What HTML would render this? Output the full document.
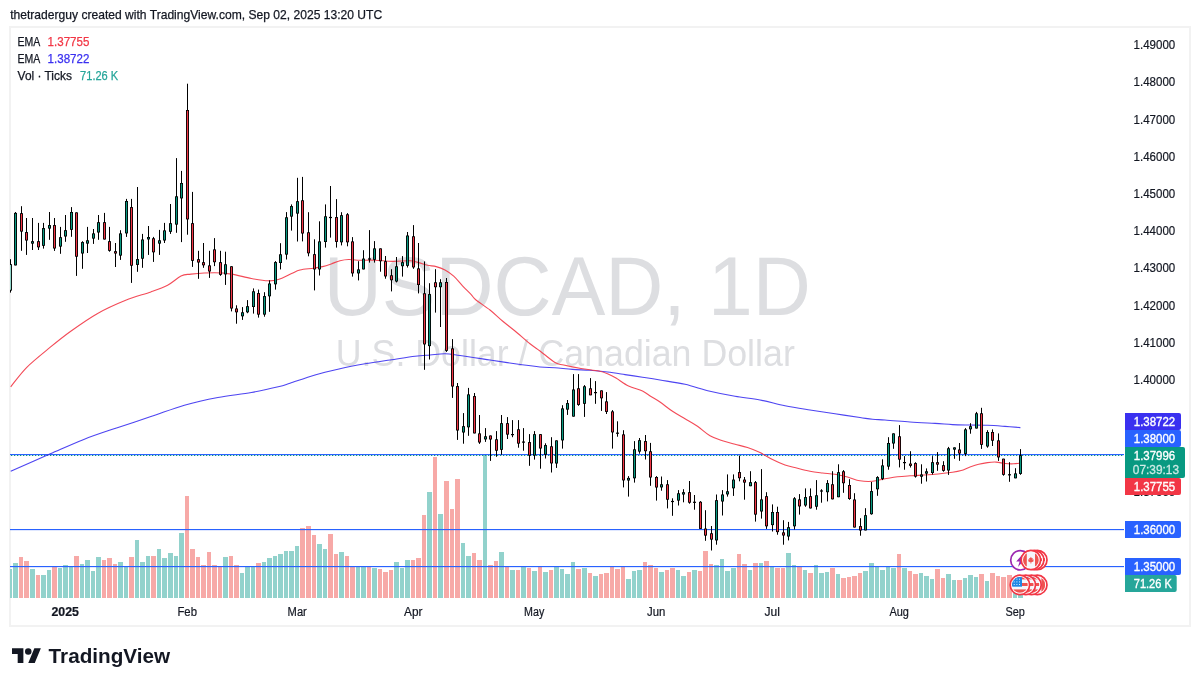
<!DOCTYPE html>
<html lang="en"><head><meta charset="utf-8"><title>USDCAD 1D - TradingView</title>
<style>html,body{margin:0;padding:0;background:#fff;}body{width:1200px;height:686px;overflow:hidden;font-family:"Liberation Sans", Arial, sans-serif;}svg{display:block;}text{font-family:"Liberation Sans", Arial, sans-serif;}</style>
</head><body>
<svg width="1200" height="686" viewBox="0 0 1200 686">
<rect width="1200" height="686" fill="#fff"/>
<rect x="10" y="27" width="1180" height="599" fill="#fff" stroke="#f2f2f2" stroke-width="2"/>
<defs><clipPath id="pane"><rect x="10" y="28" width="1114" height="572"/></clipPath></defs>
<text x="10.2" y="18.6" font-size="13" fill="#131722" stroke="#131722" stroke-width="0.25" textLength="372" lengthAdjust="spacingAndGlyphs">thetraderguy created with TradingView.com, Sep 02, 2025 13:20 UTC</text>
<g fill="#dddee1" text-anchor="middle">
<text x="567.3" y="315.4" font-size="83.5" textLength="487" lengthAdjust="spacingAndGlyphs">USDCAD, 1D</text>
<text x="565.3" y="365.8" font-size="36" textLength="459" lengthAdjust="spacingAndGlyphs">U.S. Dollar / Canadian Dollar</text>
</g>
<g clip-path="url(#pane)">
<g shape-rendering="crispEdges">
<rect x="8" y="569.17" width="4" height="28.43" fill="#92d2cc"/>
<rect x="13" y="563.00" width="5" height="34.60" fill="#92d2cc"/>
<rect x="19" y="557.00" width="4" height="40.60" fill="#f7a9a7"/>
<rect x="24" y="561.17" width="5" height="36.43" fill="#f7a9a7"/>
<rect x="30" y="569.17" width="5" height="28.43" fill="#92d2cc"/>
<rect x="36" y="575.00" width="4" height="22.60" fill="#f7a9a7"/>
<rect x="41" y="575.00" width="5" height="22.60" fill="#92d2cc"/>
<rect x="47" y="570.00" width="4" height="27.60" fill="#92d2cc"/>
<rect x="52" y="567.00" width="5" height="30.60" fill="#f7a9a7"/>
<rect x="58" y="568.00" width="4" height="29.60" fill="#92d2cc"/>
<rect x="63" y="565.00" width="5" height="32.60" fill="#92d2cc"/>
<rect x="69" y="567.00" width="4" height="30.60" fill="#92d2cc"/>
<rect x="74" y="556.17" width="5" height="41.43" fill="#f7a9a7"/>
<rect x="80" y="564.17" width="4" height="33.43" fill="#92d2cc"/>
<rect x="85" y="560.00" width="5" height="37.60" fill="#92d2cc"/>
<rect x="91" y="571.17" width="4" height="26.43" fill="#92d2cc"/>
<rect x="96" y="557.00" width="5" height="40.60" fill="#92d2cc"/>
<rect x="102" y="560.00" width="4" height="37.60" fill="#f7a9a7"/>
<rect x="107" y="558.00" width="5" height="39.60" fill="#f7a9a7"/>
<rect x="113" y="564.17" width="4" height="33.43" fill="#f7a9a7"/>
<rect x="118" y="562.00" width="5" height="35.60" fill="#92d2cc"/>
<rect x="124" y="567.00" width="4" height="30.60" fill="#92d2cc"/>
<rect x="129" y="557.00" width="5" height="40.60" fill="#f7a9a7"/>
<rect x="135" y="540.00" width="4" height="57.60" fill="#92d2cc"/>
<rect x="140" y="562.00" width="5" height="35.60" fill="#92d2cc"/>
<rect x="146" y="556.17" width="4" height="41.43" fill="#92d2cc"/>
<rect x="151" y="556.17" width="5" height="41.43" fill="#f7a9a7"/>
<rect x="157" y="549.17" width="4" height="48.43" fill="#92d2cc"/>
<rect x="162" y="558.00" width="5" height="39.60" fill="#92d2cc"/>
<rect x="168" y="553.00" width="5" height="44.60" fill="#92d2cc"/>
<rect x="174" y="556.09" width="4" height="41.51" fill="#92d2cc"/>
<rect x="179" y="533.00" width="5" height="64.60" fill="#92d2cc"/>
<rect x="185" y="496.09" width="4" height="101.51" fill="#f7a9a7"/>
<rect x="190" y="549.10" width="5" height="48.50" fill="#f7a9a7"/>
<rect x="196" y="556.97" width="4" height="40.63" fill="#f7a9a7"/>
<rect x="201" y="565.19" width="5" height="32.41" fill="#f7a9a7"/>
<rect x="207" y="552.07" width="4" height="45.53" fill="#f7a9a7"/>
<rect x="212" y="565.19" width="5" height="32.41" fill="#f7a9a7"/>
<rect x="218" y="566.59" width="4" height="31.01" fill="#f7a9a7"/>
<rect x="223" y="556.97" width="5" height="40.63" fill="#92d2cc"/>
<rect x="229" y="556.09" width="4" height="41.51" fill="#f7a9a7"/>
<rect x="234" y="565.19" width="5" height="32.41" fill="#f7a9a7"/>
<rect x="240" y="573.06" width="4" height="24.54" fill="#92d2cc"/>
<rect x="245" y="566.94" width="5" height="30.66" fill="#92d2cc"/>
<rect x="251" y="566.94" width="4" height="30.66" fill="#92d2cc"/>
<rect x="256" y="563.09" width="5" height="34.51" fill="#f7a9a7"/>
<rect x="262" y="562.22" width="4" height="35.38" fill="#92d2cc"/>
<rect x="267" y="558.19" width="5" height="39.41" fill="#92d2cc"/>
<rect x="273" y="556.09" width="4" height="41.51" fill="#92d2cc"/>
<rect x="278" y="553.99" width="5" height="43.61" fill="#92d2cc"/>
<rect x="284" y="551.20" width="4" height="46.40" fill="#92d2cc"/>
<rect x="289" y="551.20" width="5" height="46.40" fill="#92d2cc"/>
<rect x="295" y="546.12" width="4" height="51.48" fill="#92d2cc"/>
<rect x="300" y="528.10" width="5" height="69.50" fill="#f7a9a7"/>
<rect x="306" y="526.18" width="5" height="71.42" fill="#f7a9a7"/>
<rect x="312" y="535.10" width="4" height="62.50" fill="#f7a9a7"/>
<rect x="317" y="544.20" width="5" height="53.40" fill="#92d2cc"/>
<rect x="323" y="549.10" width="4" height="48.50" fill="#92d2cc"/>
<rect x="328" y="534.23" width="5" height="63.37" fill="#f7a9a7"/>
<rect x="334" y="553.99" width="4" height="43.61" fill="#f7a9a7"/>
<rect x="339" y="552.07" width="5" height="45.53" fill="#92d2cc"/>
<rect x="345" y="556.09" width="4" height="41.51" fill="#f7a9a7"/>
<rect x="350" y="566.94" width="5" height="30.66" fill="#f7a9a7"/>
<rect x="356" y="566.94" width="4" height="30.66" fill="#92d2cc"/>
<rect x="361" y="566.98" width="5" height="30.62" fill="#92d2cc"/>
<rect x="367" y="566.98" width="4" height="30.62" fill="#f7a9a7"/>
<rect x="372" y="568.08" width="5" height="29.52" fill="#92d2cc"/>
<rect x="378" y="569.17" width="4" height="28.43" fill="#f7a9a7"/>
<rect x="383" y="572.01" width="5" height="25.59" fill="#f7a9a7"/>
<rect x="389" y="570.26" width="4" height="27.34" fill="#f7a9a7"/>
<rect x="394" y="562.17" width="5" height="35.43" fill="#92d2cc"/>
<rect x="400" y="568.08" width="4" height="29.52" fill="#92d2cc"/>
<rect x="405" y="559.99" width="5" height="37.61" fill="#92d2cc"/>
<rect x="411" y="559.99" width="4" height="37.61" fill="#f7a9a7"/>
<rect x="416" y="558.02" width="5" height="39.58" fill="#f7a9a7"/>
<rect x="422" y="514.94" width="4" height="82.66" fill="#f7a9a7"/>
<rect x="427" y="492.20" width="5" height="105.40" fill="#92d2cc"/>
<rect x="433" y="457.22" width="4" height="140.38" fill="#f7a9a7"/>
<rect x="438" y="514.07" width="5" height="83.53" fill="#92d2cc"/>
<rect x="444" y="481.05" width="5" height="116.55" fill="#f7a9a7"/>
<rect x="450" y="509.04" width="4" height="88.56" fill="#f7a9a7"/>
<rect x="455" y="479.08" width="5" height="118.52" fill="#f7a9a7"/>
<rect x="461" y="543.15" width="4" height="54.45" fill="#92d2cc"/>
<rect x="466" y="556.27" width="5" height="41.33" fill="#92d2cc"/>
<rect x="472" y="552.99" width="4" height="44.61" fill="#f7a9a7"/>
<rect x="477" y="559.99" width="5" height="37.61" fill="#f7a9a7"/>
<rect x="483" y="455.47" width="4" height="142.13" fill="#92d2cc"/>
<rect x="488" y="564.80" width="5" height="32.80" fill="#f7a9a7"/>
<rect x="494" y="561.08" width="4" height="36.52" fill="#f7a9a7"/>
<rect x="499" y="552.11" width="5" height="45.49" fill="#92d2cc"/>
<rect x="505" y="566.98" width="4" height="30.62" fill="#f7a9a7"/>
<rect x="510" y="569.83" width="5" height="27.77" fill="#92d2cc"/>
<rect x="516" y="569.83" width="4" height="27.77" fill="#f7a9a7"/>
<rect x="521" y="566.98" width="5" height="30.62" fill="#92d2cc"/>
<rect x="527" y="568.08" width="4" height="29.52" fill="#f7a9a7"/>
<rect x="532" y="570.92" width="5" height="26.68" fill="#92d2cc"/>
<rect x="538" y="566.98" width="4" height="30.62" fill="#f7a9a7"/>
<rect x="543" y="572.01" width="5" height="25.59" fill="#92d2cc"/>
<rect x="549" y="570.00" width="4" height="27.60" fill="#f7a9a7"/>
<rect x="554" y="567.00" width="5" height="30.60" fill="#92d2cc"/>
<rect x="560" y="569.17" width="4" height="28.43" fill="#92d2cc"/>
<rect x="565" y="574.17" width="5" height="23.43" fill="#92d2cc"/>
<rect x="571" y="562.00" width="4" height="35.60" fill="#92d2cc"/>
<rect x="576" y="569.17" width="5" height="28.43" fill="#f7a9a7"/>
<rect x="582" y="568.33" width="5" height="29.27" fill="#92d2cc"/>
<rect x="588" y="573.00" width="4" height="24.60" fill="#f7a9a7"/>
<rect x="593" y="576.17" width="5" height="21.43" fill="#92d2cc"/>
<rect x="599" y="574.17" width="4" height="23.43" fill="#f7a9a7"/>
<rect x="604" y="573.00" width="5" height="24.60" fill="#f7a9a7"/>
<rect x="610" y="567.00" width="4" height="30.60" fill="#f7a9a7"/>
<rect x="615" y="569.17" width="5" height="28.43" fill="#f7a9a7"/>
<rect x="621" y="567.00" width="4" height="30.60" fill="#f7a9a7"/>
<rect x="626" y="579.17" width="5" height="18.43" fill="#92d2cc"/>
<rect x="632" y="571.17" width="4" height="26.43" fill="#92d2cc"/>
<rect x="637" y="570.00" width="5" height="27.60" fill="#92d2cc"/>
<rect x="643" y="562.00" width="4" height="35.60" fill="#f7a9a7"/>
<rect x="648" y="565.00" width="5" height="32.60" fill="#f7a9a7"/>
<rect x="654" y="568.33" width="4" height="29.27" fill="#f7a9a7"/>
<rect x="659" y="572.00" width="5" height="25.60" fill="#92d2cc"/>
<rect x="665" y="570.00" width="4" height="27.60" fill="#f7a9a7"/>
<rect x="670" y="568.33" width="5" height="29.27" fill="#f7a9a7"/>
<rect x="676" y="570.00" width="4" height="27.60" fill="#92d2cc"/>
<rect x="681" y="576.17" width="5" height="21.43" fill="#92d2cc"/>
<rect x="687" y="572.00" width="4" height="25.60" fill="#f7a9a7"/>
<rect x="692" y="570.00" width="5" height="27.60" fill="#92d2cc"/>
<rect x="698" y="571.17" width="4" height="26.43" fill="#f7a9a7"/>
<rect x="703" y="551.17" width="5" height="46.43" fill="#f7a9a7"/>
<rect x="709" y="564.17" width="4" height="33.43" fill="#f7a9a7"/>
<rect x="714" y="565.00" width="5" height="32.60" fill="#92d2cc"/>
<rect x="720" y="559.17" width="4" height="38.43" fill="#92d2cc"/>
<rect x="725" y="571.17" width="5" height="26.43" fill="#92d2cc"/>
<rect x="731" y="568.33" width="5" height="29.27" fill="#92d2cc"/>
<rect x="737" y="554.17" width="4" height="43.43" fill="#f7a9a7"/>
<rect x="742" y="564.17" width="5" height="33.43" fill="#f7a9a7"/>
<rect x="748" y="570.00" width="4" height="27.60" fill="#92d2cc"/>
<rect x="753" y="563.00" width="5" height="34.60" fill="#f7a9a7"/>
<rect x="759" y="563.00" width="4" height="34.60" fill="#92d2cc"/>
<rect x="764" y="561.17" width="5" height="36.43" fill="#f7a9a7"/>
<rect x="770" y="567.00" width="4" height="30.60" fill="#92d2cc"/>
<rect x="775" y="568.33" width="5" height="29.27" fill="#f7a9a7"/>
<rect x="781" y="568.33" width="4" height="29.27" fill="#f7a9a7"/>
<rect x="786" y="553.00" width="5" height="44.60" fill="#92d2cc"/>
<rect x="792" y="565.00" width="4" height="32.60" fill="#92d2cc"/>
<rect x="797" y="567.00" width="5" height="30.60" fill="#f7a9a7"/>
<rect x="803" y="570.00" width="4" height="27.60" fill="#92d2cc"/>
<rect x="808" y="573.00" width="5" height="24.60" fill="#f7a9a7"/>
<rect x="814" y="565.00" width="4" height="32.60" fill="#92d2cc"/>
<rect x="819" y="573.00" width="5" height="24.60" fill="#92d2cc"/>
<rect x="825" y="572.00" width="4" height="25.60" fill="#92d2cc"/>
<rect x="830" y="568.33" width="5" height="29.27" fill="#f7a9a7"/>
<rect x="836" y="574.17" width="4" height="23.43" fill="#92d2cc"/>
<rect x="841" y="578.00" width="5" height="19.60" fill="#f7a9a7"/>
<rect x="847" y="577.17" width="4" height="20.43" fill="#f7a9a7"/>
<rect x="852" y="576.17" width="5" height="21.43" fill="#f7a9a7"/>
<rect x="858" y="573.00" width="4" height="24.60" fill="#f7a9a7"/>
<rect x="863" y="571.17" width="5" height="26.43" fill="#92d2cc"/>
<rect x="869" y="563.00" width="5" height="34.60" fill="#92d2cc"/>
<rect x="875" y="567.00" width="4" height="30.60" fill="#92d2cc"/>
<rect x="880" y="570.00" width="5" height="27.60" fill="#92d2cc"/>
<rect x="886" y="567.00" width="4" height="30.60" fill="#92d2cc"/>
<rect x="891" y="568.33" width="5" height="29.27" fill="#92d2cc"/>
<rect x="897" y="554.17" width="4" height="43.43" fill="#f7a9a7"/>
<rect x="902" y="568.33" width="5" height="29.27" fill="#92d2cc"/>
<rect x="908" y="571.17" width="4" height="26.43" fill="#f7a9a7"/>
<rect x="913" y="574.17" width="5" height="23.43" fill="#f7a9a7"/>
<rect x="919" y="573.25" width="4" height="24.35" fill="#92d2cc"/>
<rect x="924" y="576.17" width="5" height="21.43" fill="#92d2cc"/>
<rect x="930" y="579.08" width="4" height="18.52" fill="#92d2cc"/>
<rect x="935" y="569.17" width="5" height="28.43" fill="#f7a9a7"/>
<rect x="941" y="578.15" width="4" height="19.45" fill="#f7a9a7"/>
<rect x="946" y="574.18" width="5" height="23.42" fill="#92d2cc"/>
<rect x="952" y="580.02" width="4" height="17.58" fill="#92d2cc"/>
<rect x="957" y="580.02" width="5" height="17.58" fill="#f7a9a7"/>
<rect x="963" y="578.15" width="4" height="19.45" fill="#92d2cc"/>
<rect x="968" y="575.00" width="5" height="22.60" fill="#92d2cc"/>
<rect x="974" y="577.10" width="4" height="20.50" fill="#92d2cc"/>
<rect x="979" y="574.18" width="5" height="23.42" fill="#f7a9a7"/>
<rect x="985" y="581.07" width="4" height="16.53" fill="#92d2cc"/>
<rect x="990" y="573.25" width="5" height="24.35" fill="#f7a9a7"/>
<rect x="996" y="576.17" width="4" height="21.43" fill="#f7a9a7"/>
<rect x="1001" y="577.10" width="5" height="20.50" fill="#f7a9a7"/>
<rect x="1007" y="575.00" width="5" height="22.60" fill="#f7a9a7"/>
<rect x="1013" y="578.50" width="4" height="19.10" fill="#92d2cc"/>
<rect x="1018" y="583.52" width="5" height="14.08" fill="#92d2cc"/>
</g>
<rect x="10" y="454" width="1114" height="1.15" fill="#2962ff"/>
<rect x="10" y="529" width="1114" height="1.15" fill="#2962ff"/>
<rect x="10" y="566" width="1114" height="1.15" fill="#2962ff"/>
<line x1="11" x2="1124" y1="455.55" y2="455.55" stroke="#089981" stroke-width="1.1" stroke-dasharray="1.25 1.75"/>
<path d="M10.7 471.3 C17.3 468.4 38.1 459.1 50.3 453.8 C62.5 448.5 72.6 443.8 83.8 439.4 C95.0 435.0 106.1 431.5 117.3 427.7 C128.5 423.9 139.7 420.4 150.9 416.6 C162.1 412.9 173.2 408.4 184.4 405.2 C195.6 402.0 206.7 399.6 217.9 397.5 C229.1 395.4 241.4 394.3 251.4 392.5 C261.4 390.7 271.8 388.3 278.2 386.8 C284.6 385.3 283.9 385.3 290.0 383.3 C296.1 381.3 306.7 377.4 315.0 375.0 C323.3 372.6 331.7 370.7 340.0 368.8 C348.3 366.9 356.7 365.3 365.0 363.8 C373.3 362.3 381.7 361.2 390.0 360.0 C398.3 358.8 408.3 357.1 415.0 356.3 C421.7 355.5 425.0 355.4 430.0 355.0 C435.0 354.6 440.0 353.7 445.0 353.8 C450.0 353.9 452.5 354.5 460.0 355.5 C467.5 356.5 480.8 358.6 490.0 360.0 C499.2 361.4 506.7 362.6 515.0 363.8 C523.3 365.0 533.3 366.3 540.0 367.0 C546.7 367.7 549.6 367.4 555.0 367.8 C560.4 368.2 566.7 369.0 572.5 369.4 C578.3 369.8 584.2 369.9 590.0 370.3 C595.8 370.7 601.7 371.3 607.5 372.0 C613.3 372.7 619.2 373.7 625.0 374.6 C630.8 375.5 636.7 376.3 642.5 377.2 C648.3 378.1 652.9 378.8 660.0 380.0 C667.1 381.2 676.7 382.4 685.0 384.3 C693.3 386.2 701.7 389.3 710.0 391.3 C718.3 393.3 726.7 394.9 735.0 396.3 C743.3 397.8 751.7 398.4 760.0 400.0 C768.3 401.6 776.7 404.1 785.0 405.8 C793.3 407.5 801.7 408.7 810.0 410.0 C818.3 411.3 826.7 412.6 835.0 413.8 C843.3 415.1 853.8 416.6 860.0 417.5 C866.2 418.4 868.3 418.9 872.5 419.3 C876.7 419.7 878.8 419.6 885.0 420.0 C891.2 420.4 901.7 421.4 910.0 422.0 C918.3 422.6 927.9 423.0 935.0 423.4 C942.1 423.8 946.7 424.3 952.5 424.6 C958.3 424.9 964.2 424.9 970.0 425.0 C975.8 425.1 981.7 425.1 987.5 425.3 C993.3 425.5 999.5 426.0 1005.0 426.4 C1010.5 426.8 1017.8 427.4 1020.4 427.6" fill="none" stroke="#3a30f0" stroke-width="1.1" stroke-opacity="0.9" stroke-linejoin="round"/>
<path d="M10.7 386.8 C13.4 383.6 20.2 373.9 26.8 367.3 C33.4 360.7 43.0 353.2 50.3 347.2 C57.6 341.2 62.6 337.1 70.4 331.5 C78.2 325.9 88.0 318.9 97.2 313.7 C106.4 308.5 116.8 303.9 125.7 300.3 C134.7 296.7 143.9 294.4 150.9 291.9 C157.9 289.4 162.6 287.8 167.6 285.2 C172.6 282.6 177.1 278.0 181.0 276.1 C184.9 274.2 185.4 274.7 191.0 274.1 C196.6 273.6 207.8 272.8 214.5 272.8 C221.2 272.8 225.2 273.2 231.3 274.1 C237.5 275.1 245.2 277.4 251.4 278.5 C257.6 279.6 263.7 280.6 268.2 280.8 C272.7 281.0 274.3 280.7 278.2 279.5 C282.1 278.3 288.0 275.1 291.6 273.5 C295.2 271.9 296.3 270.9 300.0 270.0 C303.7 269.1 309.9 268.8 313.7 268.2 C317.4 267.6 319.6 267.3 322.5 266.6 C325.4 265.9 328.3 264.9 331.2 263.9 C334.1 262.9 337.1 261.4 340.0 260.7 C342.9 260.0 345.8 259.6 348.7 259.5 C351.6 259.4 353.1 260.2 357.5 260.3 C361.9 260.4 369.2 260.0 375.0 260.2 C380.8 260.4 386.7 261.3 392.5 261.4 C398.3 261.5 405.6 260.6 410.0 260.8 C414.4 261.0 415.8 261.9 418.7 262.6 C421.6 263.3 424.6 264.5 427.5 265.2 C430.4 265.9 433.3 265.8 436.2 266.6 C439.1 267.4 442.1 268.5 445.0 270.1 C447.9 271.7 450.8 273.6 453.7 276.2 C456.6 278.8 459.6 282.7 462.5 285.8 C465.4 288.9 468.9 292.2 471.2 294.6 C473.4 297.0 472.9 297.4 476.0 300.0 C479.1 302.6 485.6 306.5 490.0 310.0 C494.4 313.5 498.3 317.5 502.5 321.0 C506.7 324.5 510.4 327.2 515.0 331.0 C519.6 334.8 525.8 340.5 530.0 343.8 C534.2 347.1 535.8 347.9 540.0 351.0 C544.2 354.1 551.0 360.2 555.0 362.5 C559.0 364.8 559.4 364.0 563.7 365.0 C568.0 366.0 575.2 367.5 581.0 368.5 C586.8 369.5 594.3 370.1 598.7 371.0 C603.1 371.9 604.6 372.5 607.5 373.7 C610.4 374.9 612.5 375.9 616.0 378.0 C619.5 380.1 624.1 383.8 628.5 386.0 C632.9 388.2 638.8 389.2 642.5 391.0 C646.2 392.8 648.1 394.7 651.0 396.5 C653.9 398.3 656.4 399.5 660.0 402.0 C663.6 404.5 668.3 408.5 672.5 411.3 C676.7 414.1 680.8 416.3 685.0 418.8 C689.2 421.3 693.3 423.5 697.5 426.3 C701.7 429.1 705.8 433.4 710.0 435.8 C714.2 438.2 718.3 439.4 722.5 440.8 C726.7 442.2 730.8 443.2 735.0 444.3 C739.2 445.4 743.3 446.1 747.5 447.5 C751.7 448.9 755.8 450.5 760.0 452.5 C764.2 454.5 768.3 457.4 772.5 459.5 C776.7 461.6 780.8 463.5 785.0 465.0 C789.2 466.5 793.3 467.2 797.5 468.3 C801.7 469.4 805.8 470.5 810.0 471.3 C814.2 472.1 818.3 472.5 822.5 473.0 C826.7 473.5 830.8 473.6 835.0 474.3 C839.2 475.0 843.3 475.9 847.5 477.0 C851.7 478.1 855.8 480.1 860.0 480.8 C864.2 481.5 868.3 481.6 872.5 481.3 C876.7 481.0 880.8 479.6 885.0 478.8 C889.2 478.1 893.3 477.3 897.5 476.8 C901.7 476.3 903.8 476.2 910.0 475.8 C916.2 475.4 927.9 474.9 935.0 474.3 C942.1 473.7 948.1 472.8 952.5 472.2 C956.9 471.6 958.3 471.4 961.2 470.5 C964.1 469.6 967.1 468.0 970.0 467.0 C972.9 466.0 975.8 465.0 978.7 464.3 C981.6 463.6 984.6 463.0 987.5 462.6 C990.4 462.2 993.3 462.0 996.2 462.1 C999.1 462.2 1002.1 463.2 1005.0 463.5 C1007.9 463.8 1011.1 463.9 1013.7 463.8 C1016.3 463.7 1019.3 463.2 1020.4 463.1" fill="none" stroke="#f23645" stroke-width="1.1" stroke-opacity="0.9" stroke-linejoin="round"/>
<g>
<rect x="10" y="259.2" width="1" height="33.4" fill="#000"/>
<rect x="9" y="264.2" width="3" height="26.4" fill="#000"/>
<rect x="9.90" y="265.0" width="1.2" height="24.8" fill="#8fd6ca"/>
<rect x="15" y="212.0" width="1" height="53.4" fill="#000"/>
<rect x="14" y="212.9" width="3" height="52.5" fill="#000"/>
<rect x="14.90" y="213.7" width="1.2" height="50.9" fill="#089981"/>
<rect x="21" y="206.2" width="1" height="44.6" fill="#000"/>
<rect x="20" y="213.2" width="3" height="18.4" fill="#000"/>
<rect x="20.90" y="214.0" width="1.2" height="16.8" fill="#f23645"/>
<rect x="26" y="218.0" width="1" height="36.9" fill="#000"/>
<rect x="25" y="232.1" width="3" height="8.4" fill="#000"/>
<rect x="25.90" y="232.9" width="1.2" height="6.8" fill="#f23645"/>
<rect x="32" y="218.0" width="1" height="32.0" fill="#000"/>
<rect x="31" y="241.2" width="3" height="2.4" fill="#000"/>
<rect x="31.90" y="242.0" width="1.2" height="0.8" fill="#089981"/>
<rect x="38" y="222.9" width="1" height="27.1" fill="#000"/>
<rect x="37" y="241.2" width="3" height="6.1" fill="#000"/>
<rect x="37.90" y="242.0" width="1.2" height="4.5" fill="#f23645"/>
<rect x="43" y="222.9" width="1" height="25.7" fill="#000"/>
<rect x="42" y="228.1" width="3" height="17.7" fill="#000"/>
<rect x="42.90" y="228.9" width="1.2" height="16.1" fill="#089981"/>
<rect x="49" y="212.0" width="1" height="27.8" fill="#000"/>
<rect x="48" y="225.1" width="3" height="3.5" fill="#000"/>
<rect x="48.90" y="225.9" width="1.2" height="1.9" fill="#089981"/>
<rect x="54" y="218.0" width="1" height="32.9" fill="#000"/>
<rect x="53" y="225.1" width="3" height="23.4" fill="#000"/>
<rect x="53.90" y="225.9" width="1.2" height="21.8" fill="#f23645"/>
<rect x="60" y="226.9" width="1" height="26.9" fill="#000"/>
<rect x="59" y="237.2" width="3" height="9.4" fill="#000"/>
<rect x="59.90" y="238.0" width="1.2" height="7.8" fill="#089981"/>
<rect x="65" y="215.0" width="1" height="26.8" fill="#000"/>
<rect x="64" y="230.2" width="3" height="6.3" fill="#000"/>
<rect x="64.90" y="231.0" width="1.2" height="4.7" fill="#089981"/>
<rect x="71" y="207.1" width="1" height="29.7" fill="#000"/>
<rect x="70" y="212.0" width="3" height="17.8" fill="#000"/>
<rect x="70.90" y="212.8" width="1.2" height="16.2" fill="#089981"/>
<rect x="76" y="212.4" width="1" height="63.5" fill="#000"/>
<rect x="75" y="212.4" width="3" height="44.3" fill="#000"/>
<rect x="75.90" y="213.2" width="1.2" height="42.7" fill="#f23645"/>
<rect x="82" y="241.2" width="1" height="27.6" fill="#000"/>
<rect x="81" y="242.1" width="3" height="11.4" fill="#000"/>
<rect x="81.90" y="242.9" width="1.2" height="9.8" fill="#089981"/>
<rect x="87" y="226.9" width="1" height="26.1" fill="#000"/>
<rect x="86" y="240.3" width="3" height="3.3" fill="#000"/>
<rect x="86.90" y="241.1" width="1.2" height="1.7" fill="#089981"/>
<rect x="93" y="229.0" width="1" height="14.9" fill="#000"/>
<rect x="92" y="233.4" width="3" height="5.2" fill="#000"/>
<rect x="92.90" y="234.2" width="1.2" height="3.6" fill="#089981"/>
<rect x="98" y="215.0" width="1" height="24.8" fill="#000"/>
<rect x="97" y="222.2" width="3" height="10.3" fill="#000"/>
<rect x="97.90" y="223.0" width="1.2" height="8.7" fill="#089981"/>
<rect x="104" y="212.9" width="1" height="26.6" fill="#000"/>
<rect x="103" y="222.2" width="3" height="17.3" fill="#000"/>
<rect x="103.90" y="223.0" width="1.2" height="15.7" fill="#f23645"/>
<rect x="109" y="226.9" width="1" height="24.8" fill="#000"/>
<rect x="108" y="241.2" width="3" height="9.6" fill="#000"/>
<rect x="108.90" y="242.0" width="1.2" height="8.0" fill="#f23645"/>
<rect x="115" y="243.0" width="1" height="24.0" fill="#000"/>
<rect x="114" y="251.2" width="3" height="2.3" fill="#000"/>
<rect x="114.90" y="252.0" width="1.2" height="0.7" fill="#f23645"/>
<rect x="120" y="230.2" width="1" height="29.7" fill="#000"/>
<rect x="119" y="233.4" width="3" height="22.2" fill="#000"/>
<rect x="119.90" y="234.2" width="1.2" height="20.6" fill="#089981"/>
<rect x="126" y="198.9" width="1" height="38.0" fill="#000"/>
<rect x="125" y="201.0" width="3" height="32.4" fill="#000"/>
<rect x="125.90" y="201.8" width="1.2" height="30.8" fill="#089981"/>
<rect x="131" y="198.9" width="1" height="84.0" fill="#000"/>
<rect x="130" y="207.1" width="3" height="58.6" fill="#000"/>
<rect x="130.90" y="207.9" width="1.2" height="57.0" fill="#f23645"/>
<rect x="137" y="187.0" width="1" height="84.8" fill="#000"/>
<rect x="136" y="259.1" width="3" height="5.8" fill="#000"/>
<rect x="136.90" y="259.9" width="1.2" height="4.2" fill="#089981"/>
<rect x="142" y="233.9" width="1" height="33.9" fill="#000"/>
<rect x="141" y="239.5" width="3" height="19.2" fill="#000"/>
<rect x="141.90" y="240.3" width="1.2" height="17.6" fill="#089981"/>
<rect x="148" y="226.0" width="1" height="28.9" fill="#000"/>
<rect x="147" y="237.0" width="3" height="2.4" fill="#000"/>
<rect x="147.90" y="237.8" width="1.2" height="0.8" fill="#089981"/>
<rect x="153" y="236.9" width="1" height="25.0" fill="#000"/>
<rect x="152" y="238.3" width="3" height="14.0" fill="#000"/>
<rect x="152.90" y="239.1" width="1.2" height="12.4" fill="#f23645"/>
<rect x="159" y="229.9" width="1" height="25.0" fill="#000"/>
<rect x="158" y="240.3" width="3" height="3.3" fill="#000"/>
<rect x="158.90" y="241.1" width="1.2" height="1.7" fill="#089981"/>
<rect x="164" y="222.9" width="1" height="20.1" fill="#000"/>
<rect x="163" y="230.4" width="3" height="10.1" fill="#000"/>
<rect x="163.90" y="231.2" width="1.2" height="8.5" fill="#089981"/>
<rect x="170" y="204.0" width="1" height="29.9" fill="#000"/>
<rect x="169" y="223.2" width="3" height="8.6" fill="#000"/>
<rect x="169.90" y="224.0" width="1.2" height="7.0" fill="#089981"/>
<rect x="176" y="158.1" width="1" height="74.7" fill="#000"/>
<rect x="175" y="196.3" width="3" height="28.3" fill="#000"/>
<rect x="175.90" y="197.1" width="1.2" height="26.7" fill="#089981"/>
<rect x="181" y="170.9" width="1" height="71.2" fill="#000"/>
<rect x="180" y="183.0" width="3" height="15.4" fill="#000"/>
<rect x="180.90" y="183.8" width="1.2" height="13.8" fill="#089981"/>
<rect x="187" y="83.7" width="1" height="151.0" fill="#000"/>
<rect x="186" y="110.0" width="3" height="109.4" fill="#000"/>
<rect x="186.90" y="110.8" width="1.2" height="107.8" fill="#f23645"/>
<rect x="192" y="191.9" width="1" height="75.0" fill="#000"/>
<rect x="191" y="223.2" width="3" height="37.6" fill="#000"/>
<rect x="191.90" y="224.0" width="1.2" height="36.0" fill="#f23645"/>
<rect x="198" y="250.8" width="1" height="28.0" fill="#000"/>
<rect x="197" y="259.2" width="3" height="3.3" fill="#000"/>
<rect x="197.90" y="260.0" width="1.2" height="1.7" fill="#f23645"/>
<rect x="203" y="243.0" width="1" height="24.8" fill="#000"/>
<rect x="202" y="262.2" width="3" height="3.1" fill="#000"/>
<rect x="202.90" y="263.0" width="1.2" height="1.5" fill="#f23645"/>
<rect x="209" y="250.8" width="1" height="27.1" fill="#000"/>
<rect x="208" y="265.4" width="3" height="6.1" fill="#000"/>
<rect x="208.90" y="266.2" width="1.2" height="4.5" fill="#f23645"/>
<rect x="214" y="238.1" width="1" height="28.0" fill="#000"/>
<rect x="213" y="249.4" width="3" height="12.8" fill="#000"/>
<rect x="213.90" y="250.2" width="1.2" height="11.2" fill="#f23645"/>
<rect x="220" y="250.8" width="1" height="25.0" fill="#000"/>
<rect x="219" y="262.2" width="3" height="12.6" fill="#000"/>
<rect x="219.90" y="263.0" width="1.2" height="11.0" fill="#f23645"/>
<rect x="225" y="251.7" width="1" height="33.2" fill="#000"/>
<rect x="224" y="264.3" width="3" height="10.1" fill="#000"/>
<rect x="224.90" y="265.1" width="1.2" height="8.5" fill="#089981"/>
<rect x="231" y="266.3" width="1" height="45.1" fill="#000"/>
<rect x="230" y="266.3" width="3" height="42.2" fill="#000"/>
<rect x="230.90" y="267.1" width="1.2" height="40.6" fill="#f23645"/>
<rect x="236" y="305.3" width="1" height="18.4" fill="#000"/>
<rect x="235" y="308.5" width="3" height="3.8" fill="#000"/>
<rect x="235.90" y="309.3" width="1.2" height="2.2" fill="#f23645"/>
<rect x="242" y="307.1" width="1" height="12.8" fill="#000"/>
<rect x="241" y="312.3" width="3" height="4.0" fill="#000"/>
<rect x="241.90" y="313.1" width="1.2" height="2.4" fill="#089981"/>
<rect x="247" y="300.1" width="1" height="13.1" fill="#000"/>
<rect x="246" y="306.2" width="3" height="6.1" fill="#000"/>
<rect x="246.90" y="307.0" width="1.2" height="4.5" fill="#089981"/>
<rect x="253" y="288.4" width="1" height="25.2" fill="#000"/>
<rect x="252" y="291.3" width="3" height="15.7" fill="#000"/>
<rect x="252.90" y="292.1" width="1.2" height="14.1" fill="#089981"/>
<rect x="258" y="289.6" width="1" height="28.0" fill="#000"/>
<rect x="257" y="293.1" width="3" height="21.5" fill="#000"/>
<rect x="257.90" y="293.9" width="1.2" height="19.9" fill="#f23645"/>
<rect x="264" y="292.2" width="1" height="24.5" fill="#000"/>
<rect x="263" y="296.1" width="3" height="18.5" fill="#000"/>
<rect x="263.90" y="296.9" width="1.2" height="16.9" fill="#089981"/>
<rect x="269" y="280.3" width="1" height="31.5" fill="#000"/>
<rect x="268" y="283.5" width="3" height="12.8" fill="#000"/>
<rect x="268.90" y="284.3" width="1.2" height="11.2" fill="#089981"/>
<rect x="275" y="261.1" width="1" height="28.5" fill="#000"/>
<rect x="274" y="262.1" width="3" height="22.2" fill="#000"/>
<rect x="274.90" y="262.9" width="1.2" height="20.6" fill="#089981"/>
<rect x="280" y="243.2" width="1" height="26.2" fill="#000"/>
<rect x="279" y="254.3" width="3" height="8.7" fill="#000"/>
<rect x="279.90" y="255.1" width="1.2" height="7.1" fill="#089981"/>
<rect x="286" y="212.1" width="1" height="47.4" fill="#000"/>
<rect x="285" y="217.3" width="3" height="37.3" fill="#000"/>
<rect x="285.90" y="218.1" width="1.2" height="35.7" fill="#089981"/>
<rect x="291" y="204.4" width="1" height="26.2" fill="#000"/>
<rect x="290" y="206.1" width="3" height="10.5" fill="#000"/>
<rect x="290.90" y="206.9" width="1.2" height="8.9" fill="#089981"/>
<rect x="297" y="177.8" width="1" height="63.7" fill="#000"/>
<rect x="296" y="201.2" width="3" height="12.4" fill="#000"/>
<rect x="296.90" y="202.0" width="1.2" height="10.8" fill="#089981"/>
<rect x="302" y="176.9" width="1" height="64.5" fill="#000"/>
<rect x="301" y="200.3" width="3" height="33.2" fill="#000"/>
<rect x="301.90" y="201.1" width="1.2" height="31.6" fill="#f23645"/>
<rect x="308" y="212.2" width="1" height="44.1" fill="#000"/>
<rect x="307" y="232.3" width="3" height="21.0" fill="#000"/>
<rect x="307.90" y="233.1" width="1.2" height="19.4" fill="#f23645"/>
<rect x="314" y="239.3" width="1" height="51.1" fill="#000"/>
<rect x="313" y="254.2" width="3" height="15.2" fill="#000"/>
<rect x="313.90" y="255.0" width="1.2" height="13.6" fill="#f23645"/>
<rect x="319" y="221.3" width="1" height="54.2" fill="#000"/>
<rect x="318" y="241.4" width="3" height="28.0" fill="#000"/>
<rect x="318.90" y="242.2" width="1.2" height="26.4" fill="#089981"/>
<rect x="325" y="204.4" width="1" height="43.2" fill="#000"/>
<rect x="324" y="216.3" width="3" height="25.7" fill="#000"/>
<rect x="324.90" y="217.1" width="1.2" height="24.1" fill="#089981"/>
<rect x="330" y="186.0" width="1" height="51.6" fill="#000"/>
<rect x="329" y="216.9" width="3" height="1.2" fill="#000"/>
<rect x="336" y="199.1" width="1" height="48.5" fill="#000"/>
<rect x="335" y="217.1" width="3" height="24.8" fill="#000"/>
<rect x="335.90" y="217.9" width="1.2" height="23.2" fill="#f23645"/>
<rect x="341" y="212.2" width="1" height="33.2" fill="#000"/>
<rect x="340" y="215.2" width="3" height="27.1" fill="#000"/>
<rect x="340.90" y="216.0" width="1.2" height="25.5" fill="#089981"/>
<rect x="347" y="213.1" width="1" height="33.2" fill="#000"/>
<rect x="346" y="214.3" width="3" height="28.0" fill="#000"/>
<rect x="346.90" y="215.1" width="1.2" height="26.4" fill="#f23645"/>
<rect x="352" y="237.1" width="1" height="39.5" fill="#000"/>
<rect x="351" y="241.4" width="3" height="32.0" fill="#000"/>
<rect x="351.90" y="242.2" width="1.2" height="30.4" fill="#f23645"/>
<rect x="358" y="261.2" width="1" height="19.2" fill="#000"/>
<rect x="357" y="269.4" width="3" height="4.0" fill="#000"/>
<rect x="357.90" y="270.2" width="1.2" height="2.4" fill="#089981"/>
<rect x="363" y="250.2" width="1" height="19.2" fill="#000"/>
<rect x="362" y="258.6" width="3" height="10.8" fill="#000"/>
<rect x="362.90" y="259.4" width="1.2" height="9.2" fill="#089981"/>
<rect x="369" y="230.1" width="1" height="32.5" fill="#000"/>
<rect x="368" y="258.4" width="3" height="1.2" fill="#000"/>
<rect x="374" y="241.1" width="1" height="21.5" fill="#000"/>
<rect x="373" y="248.4" width="3" height="11.4" fill="#000"/>
<rect x="373.90" y="249.2" width="1.2" height="9.8" fill="#089981"/>
<rect x="380" y="248.4" width="1" height="23.3" fill="#000"/>
<rect x="379" y="248.4" width="3" height="12.8" fill="#000"/>
<rect x="379.90" y="249.2" width="1.2" height="11.2" fill="#f23645"/>
<rect x="385" y="256.0" width="1" height="22.7" fill="#000"/>
<rect x="384" y="261.2" width="3" height="15.2" fill="#000"/>
<rect x="384.90" y="262.0" width="1.2" height="13.6" fill="#f23645"/>
<rect x="391" y="269.2" width="1" height="22.2" fill="#000"/>
<rect x="390" y="275.3" width="3" height="4.9" fill="#000"/>
<rect x="390.90" y="276.1" width="1.2" height="3.3" fill="#f23645"/>
<rect x="396" y="257.0" width="1" height="25.4" fill="#000"/>
<rect x="395" y="266.3" width="3" height="15.2" fill="#000"/>
<rect x="395.90" y="267.1" width="1.2" height="13.6" fill="#089981"/>
<rect x="402" y="256.1" width="1" height="20.5" fill="#000"/>
<rect x="401" y="262.2" width="3" height="4.0" fill="#000"/>
<rect x="401.90" y="263.0" width="1.2" height="2.4" fill="#089981"/>
<rect x="407" y="232.0" width="1" height="35.5" fill="#000"/>
<rect x="406" y="235.5" width="3" height="30.3" fill="#000"/>
<rect x="406.90" y="236.3" width="1.2" height="28.7" fill="#089981"/>
<rect x="413" y="225.1" width="1" height="43.7" fill="#000"/>
<rect x="412" y="236.3" width="3" height="31.1" fill="#000"/>
<rect x="412.90" y="237.1" width="1.2" height="29.5" fill="#f23645"/>
<rect x="418" y="243.0" width="1" height="50.4" fill="#000"/>
<rect x="417" y="268.4" width="3" height="16.6" fill="#000"/>
<rect x="417.90" y="269.2" width="1.2" height="15.0" fill="#f23645"/>
<rect x="424" y="261.4" width="1" height="108.4" fill="#000"/>
<rect x="423" y="293.3" width="3" height="51.1" fill="#000"/>
<rect x="423.90" y="294.1" width="1.2" height="49.5" fill="#f23645"/>
<rect x="429" y="283.2" width="1" height="76.3" fill="#000"/>
<rect x="428" y="294.1" width="3" height="52.0" fill="#000"/>
<rect x="428.90" y="294.9" width="1.2" height="50.4" fill="#089981"/>
<rect x="435" y="269.2" width="1" height="43.4" fill="#000"/>
<rect x="434" y="282.3" width="3" height="4.9" fill="#000"/>
<rect x="434.90" y="283.1" width="1.2" height="3.3" fill="#f23645"/>
<rect x="440" y="279.2" width="1" height="47.8" fill="#000"/>
<rect x="439" y="282.3" width="3" height="4.9" fill="#000"/>
<rect x="439.90" y="283.1" width="1.2" height="3.3" fill="#089981"/>
<rect x="446" y="278.0" width="1" height="73.9" fill="#000"/>
<rect x="445" y="282.0" width="3" height="68.8" fill="#000"/>
<rect x="445.90" y="282.8" width="1.2" height="67.2" fill="#f23645"/>
<rect x="452" y="339.1" width="1" height="58.8" fill="#000"/>
<rect x="451" y="348.4" width="3" height="38.1" fill="#000"/>
<rect x="451.90" y="349.2" width="1.2" height="36.5" fill="#f23645"/>
<rect x="457" y="383.0" width="1" height="56.9" fill="#000"/>
<rect x="456" y="386.1" width="3" height="44.4" fill="#000"/>
<rect x="456.90" y="386.9" width="1.2" height="42.8" fill="#f23645"/>
<rect x="463" y="413.1" width="1" height="30.6" fill="#000"/>
<rect x="462" y="426.2" width="3" height="6.3" fill="#000"/>
<rect x="462.90" y="427.0" width="1.2" height="4.7" fill="#089981"/>
<rect x="468" y="387.9" width="1" height="47.9" fill="#000"/>
<rect x="467" y="394.4" width="3" height="32.9" fill="#000"/>
<rect x="467.90" y="395.2" width="1.2" height="31.3" fill="#089981"/>
<rect x="474" y="393.0" width="1" height="40.4" fill="#000"/>
<rect x="473" y="396.1" width="3" height="37.3" fill="#000"/>
<rect x="473.90" y="396.9" width="1.2" height="35.7" fill="#f23645"/>
<rect x="479" y="415.0" width="1" height="28.9" fill="#000"/>
<rect x="478" y="433.4" width="3" height="9.1" fill="#000"/>
<rect x="478.90" y="434.2" width="1.2" height="7.5" fill="#f23645"/>
<rect x="485" y="428.1" width="1" height="13.8" fill="#000"/>
<rect x="484" y="436.3" width="3" height="3.1" fill="#000"/>
<rect x="484.90" y="437.1" width="1.2" height="1.5" fill="#089981"/>
<rect x="490" y="435.5" width="1" height="25.4" fill="#000"/>
<rect x="489" y="435.5" width="3" height="4.0" fill="#000"/>
<rect x="489.90" y="436.3" width="1.2" height="2.4" fill="#f23645"/>
<rect x="496" y="431.1" width="1" height="25.7" fill="#000"/>
<rect x="495" y="439.3" width="3" height="11.4" fill="#000"/>
<rect x="495.90" y="440.1" width="1.2" height="9.8" fill="#f23645"/>
<rect x="501" y="415.0" width="1" height="39.7" fill="#000"/>
<rect x="500" y="423.2" width="3" height="26.6" fill="#000"/>
<rect x="500.90" y="424.0" width="1.2" height="25.0" fill="#089981"/>
<rect x="507" y="417.1" width="1" height="21.9" fill="#000"/>
<rect x="506" y="423.2" width="3" height="11.4" fill="#000"/>
<rect x="506.90" y="424.0" width="1.2" height="9.8" fill="#f23645"/>
<rect x="512" y="420.1" width="1" height="17.1" fill="#000"/>
<rect x="511" y="434.0" width="3" height="1.2" fill="#000"/>
<rect x="518" y="420.1" width="1" height="27.6" fill="#000"/>
<rect x="517" y="429.3" width="3" height="14.3" fill="#000"/>
<rect x="517.90" y="430.1" width="1.2" height="12.7" fill="#f23645"/>
<rect x="523" y="428.1" width="1" height="22.6" fill="#000"/>
<rect x="522" y="441.5" width="3" height="1.2" fill="#000"/>
<rect x="529" y="434.1" width="1" height="31.7" fill="#000"/>
<rect x="528" y="442.1" width="3" height="13.5" fill="#000"/>
<rect x="528.90" y="442.9" width="1.2" height="11.9" fill="#f23645"/>
<rect x="534" y="431.1" width="1" height="28.5" fill="#000"/>
<rect x="533" y="434.2" width="3" height="21.3" fill="#000"/>
<rect x="533.90" y="435.0" width="1.2" height="19.7" fill="#089981"/>
<rect x="540" y="434.2" width="1" height="34.5" fill="#000"/>
<rect x="539" y="434.2" width="3" height="14.3" fill="#000"/>
<rect x="539.90" y="435.0" width="1.2" height="12.7" fill="#f23645"/>
<rect x="545" y="443.3" width="1" height="15.2" fill="#000"/>
<rect x="544" y="445.1" width="3" height="9.6" fill="#000"/>
<rect x="544.90" y="445.9" width="1.2" height="8.0" fill="#089981"/>
<rect x="551" y="437.2" width="1" height="35.3" fill="#000"/>
<rect x="550" y="446.3" width="3" height="17.1" fill="#000"/>
<rect x="550.90" y="447.1" width="1.2" height="15.5" fill="#f23645"/>
<rect x="556" y="440.4" width="1" height="27.5" fill="#000"/>
<rect x="555" y="440.4" width="3" height="23.1" fill="#000"/>
<rect x="555.90" y="441.2" width="1.2" height="21.5" fill="#089981"/>
<rect x="562" y="405.2" width="1" height="43.4" fill="#000"/>
<rect x="561" y="408.4" width="3" height="32.0" fill="#000"/>
<rect x="561.90" y="409.2" width="1.2" height="30.4" fill="#089981"/>
<rect x="567" y="400.0" width="1" height="14.9" fill="#000"/>
<rect x="566" y="403.1" width="3" height="6.5" fill="#000"/>
<rect x="566.90" y="403.9" width="1.2" height="4.9" fill="#089981"/>
<rect x="573" y="374.1" width="1" height="42.5" fill="#000"/>
<rect x="572" y="389.5" width="3" height="27.1" fill="#000"/>
<rect x="572.90" y="390.3" width="1.2" height="25.5" fill="#089981"/>
<rect x="578" y="374.1" width="1" height="31.7" fill="#000"/>
<rect x="577" y="388.3" width="3" height="16.6" fill="#000"/>
<rect x="577.90" y="389.1" width="1.2" height="15.0" fill="#f23645"/>
<rect x="584" y="385.1" width="1" height="31.8" fill="#000"/>
<rect x="583" y="386.3" width="3" height="17.5" fill="#000"/>
<rect x="583.90" y="387.1" width="1.2" height="15.9" fill="#089981"/>
<rect x="590" y="378.1" width="1" height="17.1" fill="#000"/>
<rect x="589" y="388.3" width="3" height="7.0" fill="#000"/>
<rect x="589.90" y="389.1" width="1.2" height="5.4" fill="#f23645"/>
<rect x="595" y="381.1" width="1" height="22.7" fill="#000"/>
<rect x="594" y="392.0" width="3" height="1.2" fill="#000"/>
<rect x="601" y="390.4" width="1" height="20.5" fill="#000"/>
<rect x="600" y="390.4" width="3" height="7.9" fill="#000"/>
<rect x="600.90" y="391.2" width="1.2" height="6.3" fill="#f23645"/>
<rect x="606" y="392.1" width="1" height="21.9" fill="#000"/>
<rect x="605" y="401.4" width="3" height="10.5" fill="#000"/>
<rect x="605.90" y="402.2" width="1.2" height="8.9" fill="#f23645"/>
<rect x="612" y="410.1" width="1" height="38.5" fill="#000"/>
<rect x="611" y="411.4" width="3" height="21.0" fill="#000"/>
<rect x="611.90" y="412.2" width="1.2" height="19.4" fill="#f23645"/>
<rect x="617" y="421.3" width="1" height="15.4" fill="#000"/>
<rect x="616" y="432.6" width="3" height="1.2" fill="#000"/>
<rect x="623" y="430.2" width="1" height="57.2" fill="#000"/>
<rect x="622" y="434.4" width="3" height="46.0" fill="#000"/>
<rect x="622.90" y="435.2" width="1.2" height="44.4" fill="#f23645"/>
<rect x="628" y="476.1" width="1" height="20.5" fill="#000"/>
<rect x="627" y="477.9" width="3" height="2.6" fill="#000"/>
<rect x="627.90" y="478.7" width="1.2" height="1.0" fill="#089981"/>
<rect x="634" y="441.1" width="1" height="41.5" fill="#000"/>
<rect x="633" y="449.3" width="3" height="29.0" fill="#000"/>
<rect x="633.90" y="450.1" width="1.2" height="27.4" fill="#089981"/>
<rect x="639" y="438.0" width="1" height="15.7" fill="#000"/>
<rect x="638" y="440.2" width="3" height="11.4" fill="#000"/>
<rect x="638.90" y="441.0" width="1.2" height="9.8" fill="#089981"/>
<rect x="645" y="435.0" width="1" height="24.5" fill="#000"/>
<rect x="644" y="441.1" width="3" height="10.1" fill="#000"/>
<rect x="644.90" y="441.9" width="1.2" height="8.5" fill="#f23645"/>
<rect x="650" y="442.9" width="1" height="42.9" fill="#000"/>
<rect x="649" y="451.3" width="3" height="26.2" fill="#000"/>
<rect x="649.90" y="452.1" width="1.2" height="24.6" fill="#f23645"/>
<rect x="656" y="476.1" width="1" height="24.5" fill="#000"/>
<rect x="655" y="477.0" width="3" height="10.5" fill="#000"/>
<rect x="655.90" y="477.8" width="1.2" height="8.9" fill="#f23645"/>
<rect x="661" y="476.5" width="1" height="14.2" fill="#000"/>
<rect x="660" y="484.3" width="3" height="3.1" fill="#000"/>
<rect x="660.90" y="485.1" width="1.2" height="1.5" fill="#089981"/>
<rect x="667" y="480.1" width="1" height="28.3" fill="#000"/>
<rect x="666" y="484.3" width="3" height="15.4" fill="#000"/>
<rect x="666.90" y="485.1" width="1.2" height="13.8" fill="#f23645"/>
<rect x="672" y="498.3" width="1" height="17.5" fill="#000"/>
<rect x="671" y="500.9" width="3" height="1.2" fill="#000"/>
<rect x="678" y="490.1" width="1" height="15.4" fill="#000"/>
<rect x="677" y="493.3" width="3" height="7.3" fill="#000"/>
<rect x="677.90" y="494.1" width="1.2" height="5.7" fill="#089981"/>
<rect x="683" y="489.2" width="1" height="13.1" fill="#000"/>
<rect x="682" y="492.2" width="3" height="2.3" fill="#000"/>
<rect x="682.90" y="493.0" width="1.2" height="0.7" fill="#089981"/>
<rect x="689" y="481.0" width="1" height="22.7" fill="#000"/>
<rect x="688" y="492.2" width="3" height="10.5" fill="#000"/>
<rect x="688.90" y="493.0" width="1.2" height="8.9" fill="#f23645"/>
<rect x="694" y="495.0" width="1" height="14.7" fill="#000"/>
<rect x="693" y="501.7" width="3" height="1.2" fill="#000"/>
<rect x="700" y="501.1" width="1" height="27.8" fill="#000"/>
<rect x="699" y="501.8" width="3" height="27.1" fill="#000"/>
<rect x="699.90" y="502.6" width="1.2" height="25.5" fill="#f23645"/>
<rect x="705" y="510.2" width="1" height="30.6" fill="#000"/>
<rect x="704" y="528.6" width="3" height="7.0" fill="#000"/>
<rect x="704.90" y="529.4" width="1.2" height="5.4" fill="#f23645"/>
<rect x="711" y="526.0" width="1" height="24.5" fill="#000"/>
<rect x="710" y="533.3" width="3" height="6.3" fill="#000"/>
<rect x="710.90" y="534.1" width="1.2" height="4.7" fill="#f23645"/>
<rect x="716" y="494.5" width="1" height="50.2" fill="#000"/>
<rect x="715" y="500.2" width="3" height="40.2" fill="#000"/>
<rect x="715.90" y="501.0" width="1.2" height="38.6" fill="#089981"/>
<rect x="722" y="490.1" width="1" height="25.4" fill="#000"/>
<rect x="721" y="494.5" width="3" height="7.0" fill="#000"/>
<rect x="721.90" y="495.3" width="1.2" height="5.4" fill="#089981"/>
<rect x="727" y="474.4" width="1" height="22.2" fill="#000"/>
<rect x="726" y="491.3" width="3" height="3.1" fill="#000"/>
<rect x="726.90" y="492.1" width="1.2" height="1.5" fill="#089981"/>
<rect x="733" y="474.4" width="1" height="21.5" fill="#000"/>
<rect x="732" y="479.6" width="3" height="8.7" fill="#000"/>
<rect x="732.90" y="480.4" width="1.2" height="7.1" fill="#089981"/>
<rect x="739" y="455.6" width="1" height="25.7" fill="#000"/>
<rect x="738" y="472.1" width="3" height="6.1" fill="#000"/>
<rect x="738.90" y="472.9" width="1.2" height="4.5" fill="#f23645"/>
<rect x="744" y="477.0" width="1" height="22.7" fill="#000"/>
<rect x="743" y="479.6" width="3" height="3.0" fill="#000"/>
<rect x="743.90" y="480.4" width="1.2" height="1.4" fill="#f23645"/>
<rect x="750" y="471.2" width="1" height="15.0" fill="#000"/>
<rect x="749" y="482.2" width="3" height="4.0" fill="#000"/>
<rect x="749.90" y="483.0" width="1.2" height="2.4" fill="#089981"/>
<rect x="755" y="481.0" width="1" height="40.6" fill="#000"/>
<rect x="754" y="482.2" width="3" height="32.4" fill="#000"/>
<rect x="754.90" y="483.0" width="1.2" height="30.8" fill="#f23645"/>
<rect x="761" y="469.1" width="1" height="49.5" fill="#000"/>
<rect x="760" y="499.4" width="3" height="12.1" fill="#000"/>
<rect x="760.90" y="500.2" width="1.2" height="10.5" fill="#089981"/>
<rect x="766" y="492.2" width="1" height="36.7" fill="#000"/>
<rect x="765" y="496.2" width="3" height="30.1" fill="#000"/>
<rect x="765.90" y="497.0" width="1.2" height="28.5" fill="#f23645"/>
<rect x="772" y="504.4" width="1" height="27.1" fill="#000"/>
<rect x="771" y="512.0" width="3" height="13.1" fill="#000"/>
<rect x="771.90" y="512.8" width="1.2" height="11.5" fill="#089981"/>
<rect x="777" y="506.7" width="1" height="28.0" fill="#000"/>
<rect x="776" y="512.0" width="3" height="20.1" fill="#000"/>
<rect x="776.90" y="512.8" width="1.2" height="18.5" fill="#f23645"/>
<rect x="783" y="520.2" width="1" height="24.5" fill="#000"/>
<rect x="782" y="532.4" width="3" height="3.1" fill="#000"/>
<rect x="782.90" y="533.2" width="1.2" height="1.5" fill="#f23645"/>
<rect x="788" y="521.9" width="1" height="18.5" fill="#000"/>
<rect x="787" y="527.2" width="3" height="9.3" fill="#000"/>
<rect x="787.90" y="528.0" width="1.2" height="7.7" fill="#089981"/>
<rect x="794" y="497.1" width="1" height="32.4" fill="#000"/>
<rect x="793" y="498.3" width="3" height="28.0" fill="#000"/>
<rect x="793.90" y="499.1" width="1.2" height="26.4" fill="#089981"/>
<rect x="799" y="494.1" width="1" height="20.5" fill="#000"/>
<rect x="798" y="499.4" width="3" height="7.0" fill="#000"/>
<rect x="798.90" y="500.2" width="1.2" height="5.4" fill="#f23645"/>
<rect x="805" y="488.4" width="1" height="18.4" fill="#000"/>
<rect x="804" y="497.1" width="3" height="8.4" fill="#000"/>
<rect x="804.90" y="497.9" width="1.2" height="6.8" fill="#089981"/>
<rect x="810" y="488.4" width="1" height="20.1" fill="#000"/>
<rect x="809" y="496.2" width="3" height="12.2" fill="#000"/>
<rect x="809.90" y="497.0" width="1.2" height="10.6" fill="#f23645"/>
<rect x="816" y="480.1" width="1" height="29.6" fill="#000"/>
<rect x="815" y="495.3" width="3" height="11.4" fill="#000"/>
<rect x="815.90" y="496.1" width="1.2" height="9.8" fill="#089981"/>
<rect x="821" y="489.2" width="1" height="13.5" fill="#000"/>
<rect x="820" y="490.4" width="3" height="1.2" fill="#000"/>
<rect x="827" y="480.1" width="1" height="21.3" fill="#000"/>
<rect x="826" y="483.1" width="3" height="9.1" fill="#000"/>
<rect x="826.90" y="483.9" width="1.2" height="7.5" fill="#089981"/>
<rect x="832" y="471.2" width="1" height="28.2" fill="#000"/>
<rect x="831" y="484.3" width="3" height="15.0" fill="#000"/>
<rect x="831.90" y="485.1" width="1.2" height="13.4" fill="#f23645"/>
<rect x="838" y="464.3" width="1" height="32.9" fill="#000"/>
<rect x="837" y="472.2" width="3" height="25.0" fill="#000"/>
<rect x="837.90" y="473.0" width="1.2" height="23.4" fill="#089981"/>
<rect x="843" y="470.1" width="1" height="22.7" fill="#000"/>
<rect x="842" y="471.3" width="3" height="11.9" fill="#000"/>
<rect x="842.90" y="472.1" width="1.2" height="10.3" fill="#f23645"/>
<rect x="849" y="479.2" width="1" height="20.6" fill="#000"/>
<rect x="848" y="485.0" width="3" height="14.0" fill="#000"/>
<rect x="848.90" y="485.8" width="1.2" height="12.4" fill="#f23645"/>
<rect x="854" y="493.2" width="1" height="34.3" fill="#000"/>
<rect x="853" y="499.5" width="3" height="28.0" fill="#000"/>
<rect x="853.90" y="500.3" width="1.2" height="26.4" fill="#f23645"/>
<rect x="860" y="518.2" width="1" height="17.5" fill="#000"/>
<rect x="859" y="526.1" width="3" height="4.4" fill="#000"/>
<rect x="859.90" y="526.9" width="1.2" height="2.8" fill="#f23645"/>
<rect x="865" y="508.2" width="1" height="22.2" fill="#000"/>
<rect x="864" y="515.2" width="3" height="15.2" fill="#000"/>
<rect x="864.90" y="516.0" width="1.2" height="13.6" fill="#089981"/>
<rect x="871" y="482.0" width="1" height="32.7" fill="#000"/>
<rect x="870" y="491.1" width="3" height="23.1" fill="#000"/>
<rect x="870.90" y="491.9" width="1.2" height="21.5" fill="#089981"/>
<rect x="877" y="476.2" width="1" height="19.6" fill="#000"/>
<rect x="876" y="477.1" width="3" height="12.2" fill="#000"/>
<rect x="876.90" y="477.9" width="1.2" height="10.6" fill="#089981"/>
<rect x="882" y="459.3" width="1" height="20.8" fill="#000"/>
<rect x="881" y="465.4" width="3" height="13.5" fill="#000"/>
<rect x="881.90" y="466.2" width="1.2" height="11.9" fill="#089981"/>
<rect x="888" y="437.2" width="1" height="32.5" fill="#000"/>
<rect x="887" y="443.0" width="3" height="23.6" fill="#000"/>
<rect x="887.90" y="443.8" width="1.2" height="22.0" fill="#089981"/>
<rect x="893" y="433.4" width="1" height="15.4" fill="#000"/>
<rect x="892" y="433.4" width="3" height="10.1" fill="#000"/>
<rect x="892.90" y="434.2" width="1.2" height="8.5" fill="#089981"/>
<rect x="899" y="425.1" width="1" height="42.3" fill="#000"/>
<rect x="898" y="436.3" width="3" height="23.3" fill="#000"/>
<rect x="898.90" y="437.1" width="1.2" height="21.7" fill="#f23645"/>
<rect x="904" y="456.1" width="1" height="13.6" fill="#000"/>
<rect x="903" y="462.0" width="3" height="1.2" fill="#000"/>
<rect x="910" y="451.2" width="1" height="16.3" fill="#000"/>
<rect x="909" y="463.6" width="3" height="2.2" fill="#000"/>
<rect x="909.90" y="464.4" width="1.2" height="0.6" fill="#f23645"/>
<rect x="915" y="462.2" width="1" height="15.4" fill="#000"/>
<rect x="914" y="463.1" width="3" height="13.5" fill="#000"/>
<rect x="914.90" y="463.9" width="1.2" height="11.9" fill="#f23645"/>
<rect x="921" y="464.3" width="1" height="19.4" fill="#000"/>
<rect x="920" y="474.5" width="3" height="2.2" fill="#000"/>
<rect x="920.90" y="475.3" width="1.2" height="0.6" fill="#089981"/>
<rect x="926" y="468.4" width="1" height="13.1" fill="#000"/>
<rect x="925" y="471.3" width="3" height="2.3" fill="#000"/>
<rect x="925.90" y="472.1" width="1.2" height="0.7" fill="#089981"/>
<rect x="932" y="456.1" width="1" height="18.4" fill="#000"/>
<rect x="931" y="462.2" width="3" height="10.8" fill="#000"/>
<rect x="931.90" y="463.0" width="1.2" height="9.2" fill="#089981"/>
<rect x="937" y="452.1" width="1" height="18.7" fill="#000"/>
<rect x="936" y="462.2" width="3" height="2.4" fill="#000"/>
<rect x="936.90" y="463.0" width="1.2" height="0.8" fill="#f23645"/>
<rect x="943" y="461.2" width="1" height="10.5" fill="#000"/>
<rect x="942" y="465.2" width="3" height="5.6" fill="#000"/>
<rect x="942.90" y="466.0" width="1.2" height="4.0" fill="#f23645"/>
<rect x="948" y="446.9" width="1" height="28.0" fill="#000"/>
<rect x="947" y="448.3" width="3" height="22.2" fill="#000"/>
<rect x="947.90" y="449.1" width="1.2" height="20.6" fill="#089981"/>
<rect x="954" y="447.4" width="1" height="11.4" fill="#000"/>
<rect x="953" y="447.4" width="3" height="2.2" fill="#000"/>
<rect x="953.90" y="448.2" width="1.2" height="0.6" fill="#089981"/>
<rect x="959" y="443.0" width="1" height="17.8" fill="#000"/>
<rect x="958" y="449.5" width="3" height="4.0" fill="#000"/>
<rect x="958.90" y="450.3" width="1.2" height="2.4" fill="#f23645"/>
<rect x="965" y="428.1" width="1" height="28.0" fill="#000"/>
<rect x="964" y="429.4" width="3" height="24.5" fill="#000"/>
<rect x="964.90" y="430.2" width="1.2" height="22.9" fill="#089981"/>
<rect x="970" y="423.2" width="1" height="10.5" fill="#000"/>
<rect x="969" y="426.2" width="3" height="3.1" fill="#000"/>
<rect x="969.90" y="427.0" width="1.2" height="1.5" fill="#089981"/>
<rect x="976" y="411.9" width="1" height="16.6" fill="#000"/>
<rect x="975" y="413.3" width="3" height="15.2" fill="#000"/>
<rect x="975.90" y="414.1" width="1.2" height="13.6" fill="#089981"/>
<rect x="981" y="407.8" width="1" height="41.1" fill="#000"/>
<rect x="980" y="413.3" width="3" height="31.5" fill="#000"/>
<rect x="980.90" y="414.1" width="1.2" height="29.9" fill="#f23645"/>
<rect x="987" y="430.2" width="1" height="17.5" fill="#000"/>
<rect x="986" y="432.0" width="3" height="14.5" fill="#000"/>
<rect x="986.90" y="432.8" width="1.2" height="12.9" fill="#089981"/>
<rect x="992" y="429.4" width="1" height="16.6" fill="#000"/>
<rect x="991" y="432.0" width="3" height="8.7" fill="#000"/>
<rect x="991.90" y="432.8" width="1.2" height="7.1" fill="#f23645"/>
<rect x="998" y="433.4" width="1" height="27.5" fill="#000"/>
<rect x="997" y="440.4" width="3" height="17.0" fill="#000"/>
<rect x="997.90" y="441.2" width="1.2" height="15.4" fill="#f23645"/>
<rect x="1003" y="458.7" width="1" height="17.0" fill="#000"/>
<rect x="1002" y="458.7" width="3" height="16.1" fill="#000"/>
<rect x="1002.90" y="459.5" width="1.2" height="14.5" fill="#f23645"/>
<rect x="1009" y="462.2" width="1" height="19.6" fill="#000"/>
<rect x="1008" y="474.2" width="3" height="1.2" fill="#000"/>
<rect x="1015" y="468.2" width="1" height="10.1" fill="#000"/>
<rect x="1014" y="473.4" width="3" height="4.9" fill="#000"/>
<rect x="1014.90" y="474.2" width="1.2" height="3.3" fill="#089981"/>
<rect x="1020" y="449.1" width="1" height="25.7" fill="#000"/>
<rect x="1019" y="455.2" width="3" height="18.7" fill="#000"/>
<rect x="1019.90" y="456.0" width="1.2" height="17.1" fill="#089981"/>
</g>
</g>
<text x="17.6" y="45.6" font-size="12" fill="#131722" stroke="#131722" stroke-width="0.25" textLength="22.8" lengthAdjust="spacingAndGlyphs">EMA</text>
<text x="47.6" y="45.6" font-size="12" fill="#f23645" stroke="#f23645" stroke-width="0.25" textLength="41.8" lengthAdjust="spacingAndGlyphs">1.37755</text>
<text x="17.6" y="62.9" font-size="12" fill="#131722" stroke="#131722" stroke-width="0.25" textLength="22.8" lengthAdjust="spacingAndGlyphs">EMA</text>
<text x="47.6" y="62.9" font-size="12" fill="#3a30f0" stroke="#3a30f0" stroke-width="0.25" textLength="41.8" lengthAdjust="spacingAndGlyphs">1.38722</text>
<text x="17.6" y="79.6" font-size="12" fill="#131722" stroke="#131722" stroke-width="0.25" textLength="54.3" lengthAdjust="spacingAndGlyphs">Vol · Ticks</text>
<text x="80.1" y="79.6" font-size="12" fill="#26a69a" stroke="#26a69a" stroke-width="0.25" textLength="38.1" lengthAdjust="spacingAndGlyphs">71.26 K</text>
<text x="1133.6" y="49.1" font-size="12" fill="#131722" stroke="#131722" stroke-width="0.2" textLength="41.6" lengthAdjust="spacingAndGlyphs">1.49000</text>
<text x="1133.6" y="86.3" font-size="12" fill="#131722" stroke="#131722" stroke-width="0.2" textLength="41.6" lengthAdjust="spacingAndGlyphs">1.48000</text>
<text x="1133.6" y="123.5" font-size="12" fill="#131722" stroke="#131722" stroke-width="0.2" textLength="41.6" lengthAdjust="spacingAndGlyphs">1.47000</text>
<text x="1133.6" y="160.8" font-size="12" fill="#131722" stroke="#131722" stroke-width="0.2" textLength="41.6" lengthAdjust="spacingAndGlyphs">1.46000</text>
<text x="1133.6" y="198.0" font-size="12" fill="#131722" stroke="#131722" stroke-width="0.2" textLength="41.6" lengthAdjust="spacingAndGlyphs">1.45000</text>
<text x="1133.6" y="235.2" font-size="12" fill="#131722" stroke="#131722" stroke-width="0.2" textLength="41.6" lengthAdjust="spacingAndGlyphs">1.44000</text>
<text x="1133.6" y="272.4" font-size="12" fill="#131722" stroke="#131722" stroke-width="0.2" textLength="41.6" lengthAdjust="spacingAndGlyphs">1.43000</text>
<text x="1133.6" y="309.6" font-size="12" fill="#131722" stroke="#131722" stroke-width="0.2" textLength="41.6" lengthAdjust="spacingAndGlyphs">1.42000</text>
<text x="1133.6" y="346.9" font-size="12" fill="#131722" stroke="#131722" stroke-width="0.2" textLength="41.6" lengthAdjust="spacingAndGlyphs">1.41000</text>
<text x="1133.6" y="384.1" font-size="12" fill="#131722" stroke="#131722" stroke-width="0.2" textLength="41.6" lengthAdjust="spacingAndGlyphs">1.40000</text>
<text x="1133.6" y="458.5" font-size="12" fill="#131722" stroke="#131722" stroke-width="0.2" textLength="41.6" lengthAdjust="spacingAndGlyphs">1.38000</text>
<text x="1133.6" y="495.7" font-size="12" fill="#131722" stroke="#131722" stroke-width="0.2" textLength="41.6" lengthAdjust="spacingAndGlyphs">1.37000</text>
<text x="1133.6" y="533.0" font-size="12" fill="#131722" stroke="#131722" stroke-width="0.2" textLength="41.6" lengthAdjust="spacingAndGlyphs">1.36000</text>
<text x="1133.6" y="570.2" font-size="12" fill="#131722" stroke="#131722" stroke-width="0.2" textLength="41.6" lengthAdjust="spacingAndGlyphs">1.35000</text>
<path d="M1125 413 H1179 a2 2 0 0 1 2 2 V428 a2 2 0 0 1 -2 2 H1125z" fill="#3a30f0"/>
<text x="1133.8" y="425.7" font-size="12" fill="#fff" stroke="#fff" stroke-width="0.35" textLength="41.4" lengthAdjust="spacingAndGlyphs">1.38722</text>
<path d="M1125 430 H1179 a2 2 0 0 1 2 2 V445 a2 2 0 0 1 -2 2 H1125z" fill="#2962ff"/>
<text x="1133.8" y="442.5" font-size="12" fill="#fff" stroke="#fff" stroke-width="0.35" textLength="41.4" lengthAdjust="spacingAndGlyphs">1.38000</text>
<path d="M1125 447 H1183 a2 2 0 0 1 2 2 V476 a2 2 0 0 1 -2 2 H1125z" fill="#089981"/>
<text x="1133.8" y="459.9" font-size="12" fill="#fff" stroke="#fff" stroke-width="0.35" textLength="41.4" lengthAdjust="spacingAndGlyphs">1.37996</text>
<text x="1132.8" y="473.7" font-size="12" fill="#fff" fill-opacity="0.72" stroke="#fff" stroke-opacity="0.7" stroke-width="0.3" textLength="46.2" lengthAdjust="spacingAndGlyphs">07:39:13</text>
<path d="M1125 478 H1179 a2 2 0 0 1 2 2 V493 a2 2 0 0 1 -2 2 H1125z" fill="#f23645"/>
<text x="1133.8" y="490.7" font-size="12" fill="#fff" stroke="#fff" stroke-width="0.35" textLength="41.4" lengthAdjust="spacingAndGlyphs">1.37755</text>
<path d="M1125 521 H1179 a2 2 0 0 1 2 2 V536 a2 2 0 0 1 -2 2 H1125z" fill="#2962ff"/>
<text x="1133.8" y="533.6" font-size="12" fill="#fff" stroke="#fff" stroke-width="0.35" textLength="41.4" lengthAdjust="spacingAndGlyphs">1.36000</text>
<path d="M1125 558 H1179 a2 2 0 0 1 2 2 V573 a2 2 0 0 1 -2 2 H1125z" fill="#2962ff"/>
<text x="1133.8" y="571.0" font-size="12" fill="#fff" stroke="#fff" stroke-width="0.35" textLength="41.4" lengthAdjust="spacingAndGlyphs">1.35000</text>
<path d="M1125 575 H1174.7 a2 2 0 0 1 2 2 V590 a2 2 0 0 1 -2 2 H1125z" fill="#26a69a"/>
<text x="1133.8" y="588" font-size="12" fill="#fff" stroke="#fff" stroke-width="0.35" textLength="38" lengthAdjust="spacingAndGlyphs">71.26 K</text>
<text x="65.2" y="616" font-size="12" fill="#131722" stroke="#131722" stroke-width="0.2" text-anchor="middle" font-weight="bold" textLength="27.5" lengthAdjust="spacingAndGlyphs">2025</text>
<text x="187.2" y="616" font-size="12" fill="#131722" stroke="#131722" stroke-width="0.2" text-anchor="middle" textLength="19.5" lengthAdjust="spacingAndGlyphs">Feb</text>
<text x="297.2" y="616" font-size="12" fill="#131722" stroke="#131722" stroke-width="0.2" text-anchor="middle" textLength="19.2" lengthAdjust="spacingAndGlyphs">Mar</text>
<text x="413.2" y="616" font-size="12" fill="#131722" stroke="#131722" stroke-width="0.2" text-anchor="middle" textLength="18.4" lengthAdjust="spacingAndGlyphs">Apr</text>
<text x="534.2" y="616" font-size="12" fill="#131722" stroke="#131722" stroke-width="0.2" text-anchor="middle" textLength="20.2" lengthAdjust="spacingAndGlyphs">May</text>
<text x="656.2" y="616" font-size="12" fill="#131722" stroke="#131722" stroke-width="0.2" text-anchor="middle" textLength="18.3" lengthAdjust="spacingAndGlyphs">Jun</text>
<text x="772.2" y="616" font-size="12" fill="#131722" stroke="#131722" stroke-width="0.2" text-anchor="middle" textLength="15.4" lengthAdjust="spacingAndGlyphs">Jul</text>
<text x="899.2" y="616" font-size="12" fill="#131722" stroke="#131722" stroke-width="0.2" text-anchor="middle" textLength="19.5" lengthAdjust="spacingAndGlyphs">Aug</text>
<text x="1015.2" y="616" font-size="12" fill="#131722" stroke="#131722" stroke-width="0.2" text-anchor="middle" textLength="19.4" lengthAdjust="spacingAndGlyphs">Sep</text>
<defs><clipPath id="fc"><circle r="7.9"/></clipPath></defs>
<circle cx="1020.4" cy="560.3" r="9.7" fill="#fff" stroke="#9c27b0" stroke-width="1.7"/>
<path d="M1022.6 554.2 L1016.2 561.6 1019.6 561.6 1018 567 1024.6 559.4 1021 559.4z" fill="#9c27b0"/>
<circle cx="1037.3" cy="560.0" r="9.7" fill="#fff" stroke="#f23645" stroke-width="1.7"/>
<g transform="translate(1037.3 560.0)"><g clip-path="url(#fc)"><rect x="-8" y="-8" width="16" height="16" fill="#f5f6fb"/><rect x="-8" y="-8.00" width="16" height="2.50" fill="#ef5350"/><rect x="-8" y="-1.90" width="16" height="3.00" fill="#ef5350"/><rect x="-8" y="4.50" width="16" height="3.50" fill="#ef5350"/><rect x="-8" y="-8" width="10.1" height="9.8" fill="#1e88e5"/><rect x="-6.2" y="-6.2" width="1" height="1" fill="#dcebfb"/><rect x="-3.5" y="-6.2" width="1" height="1" fill="#dcebfb"/><rect x="-0.9" y="-6.2" width="1" height="1" fill="#dcebfb"/><rect x="-6.2" y="-3.5" width="1" height="1" fill="#dcebfb"/><rect x="-3.5" y="-3.5" width="1" height="1" fill="#dcebfb"/><rect x="-0.9" y="-3.5" width="1" height="1" fill="#dcebfb"/><rect x="-6.2" y="-0.9" width="1" height="1" fill="#dcebfb"/><rect x="-3.5" y="-0.9" width="1" height="1" fill="#dcebfb"/><rect x="-0.9" y="-0.9" width="1" height="1" fill="#dcebfb"/></g></g>
<circle cx="1034.2" cy="560.0" r="9.7" fill="#fff" stroke="#f23645" stroke-width="1.7"/>
<g transform="translate(1034.2 560.0)"><g clip-path="url(#fc)"><rect x="-8" y="-8" width="16" height="16" fill="#f5f6fb"/><rect x="-8" y="-8.00" width="16" height="2.50" fill="#ef5350"/><rect x="-8" y="-1.90" width="16" height="3.00" fill="#ef5350"/><rect x="-8" y="4.50" width="16" height="3.50" fill="#ef5350"/><rect x="-8" y="-8" width="10.1" height="9.8" fill="#1e88e5"/><rect x="-6.2" y="-6.2" width="1" height="1" fill="#dcebfb"/><rect x="-3.5" y="-6.2" width="1" height="1" fill="#dcebfb"/><rect x="-0.9" y="-6.2" width="1" height="1" fill="#dcebfb"/><rect x="-6.2" y="-3.5" width="1" height="1" fill="#dcebfb"/><rect x="-3.5" y="-3.5" width="1" height="1" fill="#dcebfb"/><rect x="-0.9" y="-3.5" width="1" height="1" fill="#dcebfb"/><rect x="-6.2" y="-0.9" width="1" height="1" fill="#dcebfb"/><rect x="-3.5" y="-0.9" width="1" height="1" fill="#dcebfb"/><rect x="-0.9" y="-0.9" width="1" height="1" fill="#dcebfb"/></g></g>
<circle cx="1030.9" cy="560.0" r="9.7" fill="#fff" stroke="#f23645" stroke-width="1.7"/>
<g transform="translate(1030.9 560.0)"><g clip-path="url(#fc)"><rect x="-8" y="-8" width="16" height="16" fill="#f5f6fb"/><rect x="-8" y="-8" width="3.9" height="16" fill="#ef5350"/><rect x="4.1" y="-8" width="3.9" height="16" fill="#ef5350"/><path d="M0-3.3 L.9-1.7 1.9-2.1 1.5-.3 2.9-.7 2.4.5 3 .9 1 2.2 .4 2.1 .4 3.4-.4 3.4-.4 2.1-1 2.2-3 .9-2.4.5-2.9-.7-1.5-.3-1.9-2.1-.9-1.7z" fill="#ef5350"/></g></g>
<circle cx="1037.3" cy="584.9" r="9.7" fill="#fff" stroke="#f23645" stroke-width="1.7"/>
<g transform="translate(1037.3 584.9)"><g clip-path="url(#fc)"><rect x="-8" y="-8" width="16" height="16" fill="#f5f6fb"/><rect x="-8" y="-8" width="3.9" height="16" fill="#ef5350"/><rect x="4.1" y="-8" width="3.9" height="16" fill="#ef5350"/><path d="M0-3.3 L.9-1.7 1.9-2.1 1.5-.3 2.9-.7 2.4.5 3 .9 1 2.2 .4 2.1 .4 3.4-.4 3.4-.4 2.1-1 2.2-3 .9-2.4.5-2.9-.7-1.5-.3-1.9-2.1-.9-1.7z" fill="#ef5350"/></g></g>
<circle cx="1031.5" cy="584.9" r="9.7" fill="#fff" stroke="#f23645" stroke-width="1.7"/>
<g transform="translate(1031.5 584.9)"><g clip-path="url(#fc)"><rect x="-8" y="-8" width="16" height="16" fill="#f5f6fb"/><rect x="-8" y="-8.00" width="16" height="2.50" fill="#ef5350"/><rect x="-8" y="-1.90" width="16" height="3.00" fill="#ef5350"/><rect x="-8" y="4.50" width="16" height="3.50" fill="#ef5350"/><rect x="-8" y="-8" width="10.1" height="9.8" fill="#1e88e5"/><rect x="-6.2" y="-6.2" width="1" height="1" fill="#dcebfb"/><rect x="-3.5" y="-6.2" width="1" height="1" fill="#dcebfb"/><rect x="-0.9" y="-6.2" width="1" height="1" fill="#dcebfb"/><rect x="-6.2" y="-3.5" width="1" height="1" fill="#dcebfb"/><rect x="-3.5" y="-3.5" width="1" height="1" fill="#dcebfb"/><rect x="-0.9" y="-3.5" width="1" height="1" fill="#dcebfb"/><rect x="-6.2" y="-0.9" width="1" height="1" fill="#dcebfb"/><rect x="-3.5" y="-0.9" width="1" height="1" fill="#dcebfb"/><rect x="-0.9" y="-0.9" width="1" height="1" fill="#dcebfb"/></g></g>
<circle cx="1025.8" cy="584.9" r="9.7" fill="#fff" stroke="#f23645" stroke-width="1.7"/>
<g transform="translate(1025.8 584.9)"><g clip-path="url(#fc)"><rect x="-8" y="-8" width="16" height="16" fill="#f5f6fb"/><rect x="-8" y="-8.00" width="16" height="2.50" fill="#ef5350"/><rect x="-8" y="-1.90" width="16" height="3.00" fill="#ef5350"/><rect x="-8" y="4.50" width="16" height="3.50" fill="#ef5350"/><rect x="-8" y="-8" width="10.1" height="9.8" fill="#1e88e5"/><rect x="-6.2" y="-6.2" width="1" height="1" fill="#dcebfb"/><rect x="-3.5" y="-6.2" width="1" height="1" fill="#dcebfb"/><rect x="-0.9" y="-6.2" width="1" height="1" fill="#dcebfb"/><rect x="-6.2" y="-3.5" width="1" height="1" fill="#dcebfb"/><rect x="-3.5" y="-3.5" width="1" height="1" fill="#dcebfb"/><rect x="-0.9" y="-3.5" width="1" height="1" fill="#dcebfb"/><rect x="-6.2" y="-0.9" width="1" height="1" fill="#dcebfb"/><rect x="-3.5" y="-0.9" width="1" height="1" fill="#dcebfb"/><rect x="-0.9" y="-0.9" width="1" height="1" fill="#dcebfb"/></g></g>
<circle cx="1019.9" cy="584.9" r="9.7" fill="#fff" stroke="#f23645" stroke-width="1.7"/>
<g transform="translate(1019.9 584.9)"><g clip-path="url(#fc)"><rect x="-8" y="-8" width="16" height="16" fill="#f5f6fb"/><rect x="-8" y="-8.00" width="16" height="2.50" fill="#ef5350"/><rect x="-8" y="-1.90" width="16" height="3.00" fill="#ef5350"/><rect x="-8" y="4.50" width="16" height="3.50" fill="#ef5350"/><rect x="-8" y="-8" width="10.1" height="9.8" fill="#1e88e5"/><rect x="-6.2" y="-6.2" width="1" height="1" fill="#dcebfb"/><rect x="-3.5" y="-6.2" width="1" height="1" fill="#dcebfb"/><rect x="-0.9" y="-6.2" width="1" height="1" fill="#dcebfb"/><rect x="-6.2" y="-3.5" width="1" height="1" fill="#dcebfb"/><rect x="-3.5" y="-3.5" width="1" height="1" fill="#dcebfb"/><rect x="-0.9" y="-3.5" width="1" height="1" fill="#dcebfb"/><rect x="-6.2" y="-0.9" width="1" height="1" fill="#dcebfb"/><rect x="-3.5" y="-0.9" width="1" height="1" fill="#dcebfb"/><rect x="-0.9" y="-0.9" width="1" height="1" fill="#dcebfb"/></g></g>
<g transform="translate(12 645.05) scale(0.8125)" fill="#131722"><path d="M14 22H7V11H0V4h14v18zM28 22h-8l7.5-18h8L28 22z"/><circle cx="20" cy="8" r="4"/></g>
<text x="48.6" y="663" font-size="21" font-weight="bold" fill="#131722" textLength="121.5" lengthAdjust="spacingAndGlyphs">TradingView</text>
</svg></body></html>
